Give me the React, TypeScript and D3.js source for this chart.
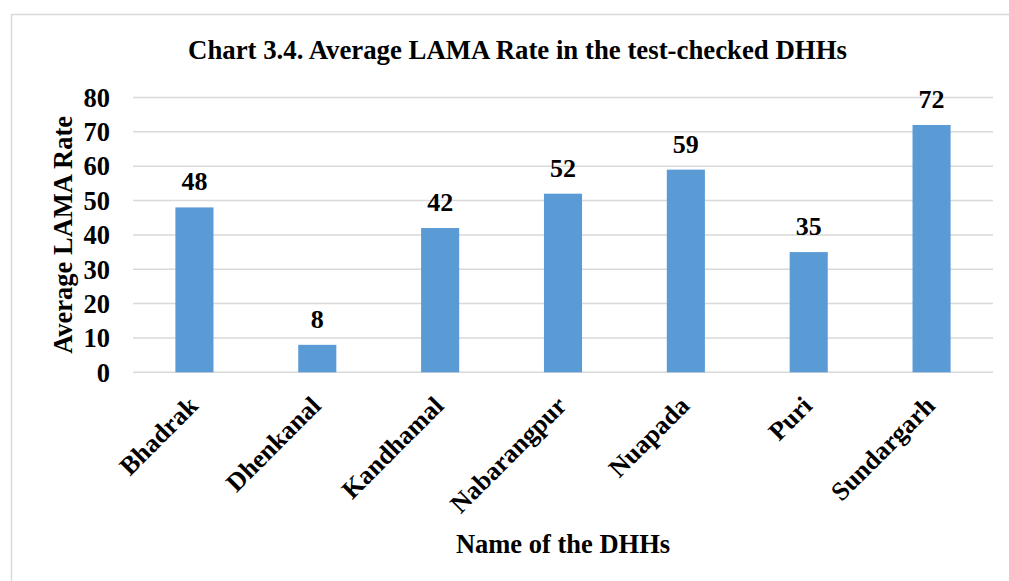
import React from "react";
import * as d3 from "d3";

const categories = ["Bhadrak", "Dhenkanal", "Kandhamal", "Nabarangpur", "Nuapada", "Puri", "Sundargarh"];
const values = [48, 8, 42, 52, 59, 35, 72];
const yTicks = [0, 10, 20, 30, 40, 50, 60, 70, 80];
const title = "Chart 3.4. Average LAMA Rate in the test-checked DHHs";
const xTitle = "Name of the DHHs";
const yTitle = "Average LAMA Rate";

export default function App() {
  const W = 1009, H = 581;
  const left = 133, right = 993, top = 97.5, bottom = 372.3;
  const x = d3.scaleBand().domain(categories).range([left, right]).paddingInner(0.69).paddingOuter(0.345);
  const y = d3.scaleLinear().domain([0, 80]).range([bottom, top]);
  const font = "'Liberation Serif', 'Times New Roman', serif";
  return (
    <svg width={W} height={H} style={{ position: "absolute", left: 0, top: 0, background: "#fff" }}>
      <rect x={11.5} y={14.5} width={1100} height={700} fill="#fff" stroke="#D9D9D9" strokeWidth={1.5} />
      <text x={517.5} y={58.5} textAnchor="middle" fontFamily={font} fontWeight="bold" fontSize={26.8}>{title}</text>
      {yTicks.map(t => (
        <g key={t}>
          <line x1={left} x2={right} y1={y(t)} y2={y(t)} stroke="#D9D9D9" strokeWidth={1.5} />
          <text x={110} y={y(t)} dy="0.35em" textAnchor="end" fontFamily={font} fontWeight="bold" fontSize={26.5}>{t}</text>
        </g>
      ))}
      {categories.map((c, i) => (
        <g key={c}>
          <rect x={x(c)} y={y(values[i])} width={x.bandwidth()} height={y(0) - y(values[i])} fill="#5B9BD5" />
          <text x={x(c)! + x.bandwidth() / 2} y={y(values[i]) - 17} textAnchor="middle" fontFamily={font} fontWeight="bold" fontSize={26}>{values[i]}</text>
          <text transform={`translate(${x(c)! + x.bandwidth() / 2 + 5},${bottom + 35}) rotate(-45)`} textAnchor="end" fontFamily={font} fontWeight="bold" fontSize={26}>{c}</text>
        </g>
      ))}
      <text x={(left + right) / 2} y={553} textAnchor="middle" fontFamily={font} fontWeight="bold" fontSize={26.5}>{xTitle}</text>
      <text transform={`translate(71.5,${(top + bottom) / 2}) rotate(-90)`} textAnchor="middle" fontFamily={font} fontWeight="bold" fontSize={26.5}>{yTitle}</text>
    </svg>
  );
}
